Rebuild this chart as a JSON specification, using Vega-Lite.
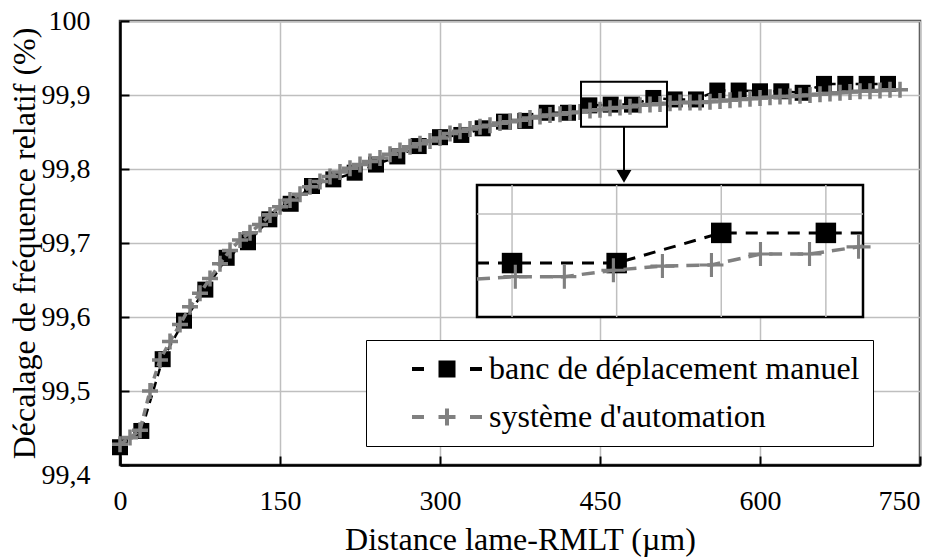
{
  "$schema": "https://vega.github.io/schema/vega-lite/v6.json",
  "width": 800,
  "height": 444,
  "autosize": "none",
  "padding": {"left": 120, "top": 21, "right": 29, "bottom": 93},
  "background": "white",
  "config": {
    "font": "Liberation Serif",
    "view": {"stroke": "#404040", "strokeWidth": 2.5},
    "axis": {
      "domainColor": "black", "domainWidth": 2.5,
      "gridColor": "#bfbfbf", "gridWidth": 1.5,
      "tickColor": "black", "tickWidth": 2, "tickSize": -9,
      "labelFont": "Liberation Serif", "labelFontSize": 28, "labelColor": "black",
      "titleFont": "Liberation Serif", "titleFontSize": 32, "titleFontWeight": "normal", "titleColor": "black"
    },
    "legend": {
      "labelFont": "Liberation Serif", "labelFontSize": 32, "labelColor": "black", "labelLimit": 700
    }
  },
  "datasets": {
    "manuel": [
      {"s": "banc de déplacement manuel", "x": 0, "y": 99.424},
      {"s": "banc de déplacement manuel", "x": 20, "y": 99.446},
      {"s": "banc de déplacement manuel", "x": 40, "y": 99.543},
      {"s": "banc de déplacement manuel", "x": 60, "y": 99.595},
      {"s": "banc de déplacement manuel", "x": 80, "y": 99.637},
      {"s": "banc de déplacement manuel", "x": 100, "y": 99.680},
      {"s": "banc de déplacement manuel", "x": 120, "y": 99.701},
      {"s": "banc de déplacement manuel", "x": 140, "y": 99.732},
      {"s": "banc de déplacement manuel", "x": 160, "y": 99.753},
      {"s": "banc de déplacement manuel", "x": 180, "y": 99.777},
      {"s": "banc de déplacement manuel", "x": 200, "y": 99.786},
      {"s": "banc de déplacement manuel", "x": 220, "y": 99.795},
      {"s": "banc de déplacement manuel", "x": 240, "y": 99.806},
      {"s": "banc de déplacement manuel", "x": 260, "y": 99.817},
      {"s": "banc de déplacement manuel", "x": 280, "y": 99.831},
      {"s": "banc de déplacement manuel", "x": 300, "y": 99.843},
      {"s": "banc de déplacement manuel", "x": 320, "y": 99.846},
      {"s": "banc de déplacement manuel", "x": 340, "y": 99.855},
      {"s": "banc de déplacement manuel", "x": 360, "y": 99.864},
      {"s": "banc de déplacement manuel", "x": 380, "y": 99.865},
      {"s": "banc de déplacement manuel", "x": 400, "y": 99.876},
      {"s": "banc de déplacement manuel", "x": 420, "y": 99.876},
      {"s": "banc de déplacement manuel", "x": 440, "y": 99.886},
      {"s": "banc de déplacement manuel", "x": 460, "y": 99.887},
      {"s": "banc de déplacement manuel", "x": 480, "y": 99.887},
      {"s": "banc de déplacement manuel", "x": 500, "y": 99.896},
      {"s": "banc de déplacement manuel", "x": 520, "y": 99.894},
      {"s": "banc de déplacement manuel", "x": 540, "y": 99.894},
      {"s": "banc de déplacement manuel", "x": 560, "y": 99.906},
      {"s": "banc de déplacement manuel", "x": 580, "y": 99.906},
      {"s": "banc de déplacement manuel", "x": 600, "y": 99.905},
      {"s": "banc de déplacement manuel", "x": 620, "y": 99.905},
      {"s": "banc de déplacement manuel", "x": 640, "y": 99.903},
      {"s": "banc de déplacement manuel", "x": 660, "y": 99.915},
      {"s": "banc de déplacement manuel", "x": 680, "y": 99.915},
      {"s": "banc de déplacement manuel", "x": 700, "y": 99.915},
      {"s": "banc de déplacement manuel", "x": 720, "y": 99.915}
    ],
    "auto": [
      {"s": "système d'automation", "x": 0, "y": 99.428},
      {"s": "système d'automation", "x": 9.375, "y": 99.437},
      {"s": "système d'automation", "x": 18.75, "y": 99.447},
      {"s": "système d'automation", "x": 28.125, "y": 99.500},
      {"s": "système d'automation", "x": 37.5, "y": 99.542},
      {"s": "système d'automation", "x": 46.875, "y": 99.567},
      {"s": "système d'automation", "x": 56.25, "y": 99.590},
      {"s": "système d'automation", "x": 65.625, "y": 99.614},
      {"s": "système d'automation", "x": 75, "y": 99.632},
      {"s": "système d'automation", "x": 84.375, "y": 99.652},
      {"s": "système d'automation", "x": 93.75, "y": 99.672},
      {"s": "système d'automation", "x": 103.125, "y": 99.690},
      {"s": "système d'automation", "x": 112.5, "y": 99.704},
      {"s": "système d'automation", "x": 121.875, "y": 99.714},
      {"s": "système d'automation", "x": 131.25, "y": 99.725},
      {"s": "système d'automation", "x": 140.625, "y": 99.738},
      {"s": "système d'automation", "x": 150, "y": 99.749},
      {"s": "système d'automation", "x": 159.375, "y": 99.758},
      {"s": "système d'automation", "x": 168.75, "y": 99.766},
      {"s": "système d'automation", "x": 178.125, "y": 99.776},
      {"s": "système d'automation", "x": 187.5, "y": 99.783},
      {"s": "système d'automation", "x": 196.875, "y": 99.790},
      {"s": "système d'automation", "x": 206.25, "y": 99.796},
      {"s": "système d'automation", "x": 215.625, "y": 99.801},
      {"s": "système d'automation", "x": 225, "y": 99.806},
      {"s": "système d'automation", "x": 234.375, "y": 99.810},
      {"s": "système d'automation", "x": 243.75, "y": 99.815},
      {"s": "système d'automation", "x": 253.125, "y": 99.820},
      {"s": "système d'automation", "x": 262.5, "y": 99.825},
      {"s": "système d'automation", "x": 271.875, "y": 99.830},
      {"s": "système d'automation", "x": 281.25, "y": 99.834},
      {"s": "système d'automation", "x": 290.625, "y": 99.838},
      {"s": "système d'automation", "x": 300, "y": 99.842},
      {"s": "système d'automation", "x": 309.375, "y": 99.848},
      {"s": "système d'automation", "x": 318.75, "y": 99.851},
      {"s": "système d'automation", "x": 328.125, "y": 99.854},
      {"s": "système d'automation", "x": 337.5, "y": 99.857},
      {"s": "système d'automation", "x": 346.875, "y": 99.859},
      {"s": "système d'automation", "x": 356.25, "y": 99.862},
      {"s": "système d'automation", "x": 365.625, "y": 99.864},
      {"s": "système d'automation", "x": 375, "y": 99.866},
      {"s": "système d'automation", "x": 384.375, "y": 99.869},
      {"s": "système d'automation", "x": 393.75, "y": 99.871},
      {"s": "système d'automation", "x": 403.125, "y": 99.873},
      {"s": "système d'automation", "x": 412.5, "y": 99.874},
      {"s": "système d'automation", "x": 421.875, "y": 99.876},
      {"s": "système d'automation", "x": 431.25, "y": 99.877},
      {"s": "système d'automation", "x": 440.625, "y": 99.879},
      {"s": "système d'automation", "x": 450, "y": 99.880},
      {"s": "système d'automation", "x": 459.375, "y": 99.882},
      {"s": "système d'automation", "x": 468.75, "y": 99.883},
      {"s": "système d'automation", "x": 478.125, "y": 99.884},
      {"s": "système d'automation", "x": 487.5, "y": 99.886},
      {"s": "système d'automation", "x": 496.875, "y": 99.887},
      {"s": "système d'automation", "x": 506.25, "y": 99.888},
      {"s": "système d'automation", "x": 515.625, "y": 99.889},
      {"s": "système d'automation", "x": 525, "y": 99.890},
      {"s": "système d'automation", "x": 534.375, "y": 99.890},
      {"s": "système d'automation", "x": 543.75, "y": 99.890},
      {"s": "système d'automation", "x": 553.125, "y": 99.891},
      {"s": "système d'automation", "x": 562.5, "y": 99.892},
      {"s": "système d'automation", "x": 571.875, "y": 99.893},
      {"s": "système d'automation", "x": 581.25, "y": 99.894},
      {"s": "système d'automation", "x": 590.625, "y": 99.895},
      {"s": "système d'automation", "x": 600, "y": 99.896},
      {"s": "système d'automation", "x": 609.375, "y": 99.897},
      {"s": "système d'automation", "x": 618.75, "y": 99.898},
      {"s": "système d'automation", "x": 628.125, "y": 99.898},
      {"s": "système d'automation", "x": 637.5, "y": 99.899},
      {"s": "système d'automation", "x": 646.875, "y": 99.900},
      {"s": "système d'automation", "x": 656.25, "y": 99.901},
      {"s": "système d'automation", "x": 665.625, "y": 99.902},
      {"s": "système d'automation", "x": 675, "y": 99.903},
      {"s": "système d'automation", "x": 684.375, "y": 99.904},
      {"s": "système d'automation", "x": 693.75, "y": 99.905},
      {"s": "système d'automation", "x": 703.125, "y": 99.905},
      {"s": "système d'automation", "x": 712.5, "y": 99.906},
      {"s": "système d'automation", "x": 721.875, "y": 99.907},
      {"s": "système d'automation", "x": 731.25, "y": 99.907}
    ],
    "zoombox": [{"x1": 432.2, "x2": 512.8, "y1": 99.857, "y2": 99.918}],
    "arrow": [{"x": 472.5, "y1": 99.857, "y2": 99.795, "tip": 99.79}],
    "insetframe": [{"x1": 433.3, "x2": 507.1, "y1": 99.8727, "y2": 99.9077}],
    "insetgridx": [
      {"x": 440, "y1": 99.8727, "y2": 99.9077},
      {"x": 460, "y1": 99.8727, "y2": 99.9077},
      {"x": 480, "y1": 99.8727, "y2": 99.9077},
      {"x": 500, "y1": 99.8727, "y2": 99.9077}
    ],
    "insetgridy": [{"y": 99.9, "x1": 433.3, "x2": 507.1}],
    "insetmanuel": [
      {"x": 433.3, "y": 99.887, "pt": false},
      {"x": 440, "y": 99.887, "pt": true},
      {"x": 460, "y": 99.887, "pt": true},
      {"x": 480, "y": 99.895, "pt": true},
      {"x": 500, "y": 99.895, "pt": true},
      {"x": 507.1, "y": 99.895, "pt": false}
    ],
    "insetauto": [
      {"x": 433.3, "y": 99.8828, "pt": false},
      {"x": 440.625, "y": 99.8834, "pt": true},
      {"x": 450, "y": 99.8834, "pt": true},
      {"x": 459.375, "y": 99.8851, "pt": true},
      {"x": 468.75, "y": 99.8862, "pt": true},
      {"x": 478.125, "y": 99.8865, "pt": true},
      {"x": 487.5, "y": 99.8894, "pt": true},
      {"x": 496.875, "y": 99.8894, "pt": true},
      {"x": 506.25, "y": 99.8913, "pt": true},
      {"x": 507.1, "y": 99.8915, "pt": false}
    ]
  },
  "layer": [
    {
      "layer": [
        {
          "data": {"name": "manuel"},
          "mark": {"type": "line", "color": "black", "strokeWidth": 2.5, "strokeDash": [8, 6]},
          "encoding": {
            "x": {"field": "x", "type": "quantitative",
              "scale": {"domain": [0, 750], "nice": false, "zero": false},
              "axis": {"values": [0, 150, 300, 450, 600, 750], "title": "Distance lame-RMLT (µm)",
                "labelFlush": false,
                "labelOffset": {"condition": {"test": "datum.value >= 749", "value": -21}, "value": 0},
                "labelPadding": 31, "titleY": 84, "titleBaseline": "alphabetic"}},
            "y": {"field": "y", "type": "quantitative",
              "scale": {"domain": [99.4, 100], "nice": false, "zero": false},
              "axis": {"values": [99.4, 99.5, 99.6, 99.7, 99.8, 99.9, 100],
                "title": "Décalage de fréquence relatif (%)",
                "labelExpr": "datum.value >= 99.99 ? '100' : replace(format(datum.value, '.1f'), '.', ',')",
                "labelPadding": 39,
                "labelOffset": {"condition": {"test": "datum.value <= 99.41", "value": 10}, "value": 0},
                "titleX": -86, "titleY": 222, "titleAngle": -90, "titleAlign": "center", "titleBaseline": "alphabetic"}}
          }
        },
        {
          "data": {"name": "manuel"},
          "mark": {"type": "point", "shape": "square", "filled": true, "color": "black", "size": 256, "opacity": 1, "strokeWidth": 0},
          "encoding": {
            "x": {"field": "x", "type": "quantitative"},
            "y": {"field": "y", "type": "quantitative"}
          }
        },
        {
          "data": {"name": "auto"},
          "mark": {"type": "line", "color": "#808080", "strokeWidth": 3.5, "strokeDash": [8, 5]},
          "encoding": {
            "x": {"field": "x", "type": "quantitative"},
            "y": {"field": "y", "type": "quantitative"}
          }
        },
        {
          "data": {"name": "auto"},
          "mark": {"type": "point", "shape": "M-1,-0.22H1V0.22H-1Z M-0.22,-1H0.22V1H-0.22Z", "filled": true, "color": "#808080", "size": 256, "opacity": 1, "strokeWidth": 0},
          "encoding": {
            "x": {"field": "x", "type": "quantitative"},
            "y": {"field": "y", "type": "quantitative"}
          }
        },
        {
          "data": {"name": "manuel"},
          "transform": [{"filter": "false"}],
          "mark": {"type": "point", "filled": true, "opacity": 1, "strokeWidth": 0},
          "encoding": {
            "x": {"field": "x", "type": "quantitative"},
            "y": {"field": "y", "type": "quantitative"},
            "color": {"field": "s", "type": "nominal",
              "scale": {"domain": ["banc de déplacement manuel", "système d'automation"], "range": ["black", "#808080"]},
              "legend": {
                "title": null, "orient": "none", "legendX": 246, "legendY": 319,
                "padding": 13, "rowPadding": 16, "symbolOffset": 52, "labelOffset": 26,
                "symbolSize": 400, "strokeColor": "black", "fillColor": "white",
                "encode": {
                  "symbols": {"update": {"strokeWidth": {"value": 0}}},
                  "legend": {"update": {"strokeWidth": {"value": 2}}}
                }
              }},
            "shape": {"field": "s", "type": "nominal",
              "scale": {"domain": ["banc de déplacement manuel", "système d'automation"],
                "range": [
                  "M-3.5,-0.2H-2.3V0.2H-3.5Z M-0.85,-0.85H0.85V0.85H-0.85Z M2.3,-0.2H3.5V0.2H2.3Z",
                  "M-3.5,-0.2H-2.3V0.2H-3.5Z M-0.85,-0.2H0.85V0.2H-0.85Z M-0.2,-0.85H0.2V0.85H-0.2Z M2.3,-0.2H3.5V0.2H2.3Z"
                ]}}
          }
        },
        {
          "data": {"name": "zoombox"},
          "mark": {"type": "rect", "fill": null, "fillOpacity": 0, "stroke": "black", "strokeWidth": 2},
          "encoding": {
            "x": {"field": "x1", "type": "quantitative"},
            "x2": {"field": "x2"},
            "y": {"field": "y1", "type": "quantitative"},
            "y2": {"field": "y2"}
          }
        },
        {
          "data": {"name": "arrow"},
          "mark": {"type": "rule", "color": "black", "strokeWidth": 2},
          "encoding": {
            "x": {"field": "x", "type": "quantitative"},
            "y": {"field": "y1", "type": "quantitative"},
            "y2": {"field": "y2"}
          }
        },
        {
          "data": {"name": "arrow"},
          "mark": {"type": "point", "shape": "triangle-down", "filled": true, "color": "black", "size": 220, "opacity": 1},
          "encoding": {
            "x": {"field": "x", "type": "quantitative"},
            "y": {"field": "tip", "type": "quantitative"}
          }
        }
      ]
    },
    {
      "layer": [
        {
          "data": {"name": "insetframe"},
          "mark": {"type": "rect", "fill": "white", "stroke": "black", "strokeWidth": 2.5},
          "encoding": {
            "x": {"field": "x1", "type": "quantitative", "axis": null,
              "scale": {"domain": [433.3, 507.1], "range": [357, 743], "nice": false, "zero": false}},
            "x2": {"field": "x2"},
            "y": {"field": "y1", "type": "quantitative", "axis": null,
              "scale": {"domain": [99.8727, 99.9077], "range": [296, 164], "nice": false, "zero": false}},
            "y2": {"field": "y2"}
          }
        },
        {
          "data": {"name": "insetgridx"},
          "mark": {"type": "rule", "color": "#bfbfbf", "strokeWidth": 1.5},
          "encoding": {
            "x": {"field": "x", "type": "quantitative", "axis": null},
            "y": {"field": "y1", "type": "quantitative", "axis": null},
            "y2": {"field": "y2"}
          }
        },
        {
          "data": {"name": "insetgridy"},
          "mark": {"type": "rule", "color": "#bfbfbf", "strokeWidth": 1.5},
          "encoding": {
            "y": {"field": "y", "type": "quantitative", "axis": null},
            "x": {"field": "x1", "type": "quantitative", "axis": null},
            "x2": {"field": "x2"}
          }
        },
        {
          "data": {"name": "insetmanuel"},
          "mark": {"type": "line", "color": "black", "strokeWidth": 3, "strokeDash": [12, 9]},
          "encoding": {
            "x": {"field": "x", "type": "quantitative", "axis": null},
            "y": {"field": "y", "type": "quantitative", "axis": null}
          }
        },
        {
          "data": {"name": "insetmanuel"},
          "transform": [{"filter": "datum.pt"}],
          "mark": {"type": "point", "shape": "square", "filled": true, "color": "black", "size": 420, "opacity": 1},
          "encoding": {
            "x": {"field": "x", "type": "quantitative", "axis": null},
            "y": {"field": "y", "type": "quantitative", "axis": null}
          }
        },
        {
          "data": {"name": "insetauto"},
          "mark": {"type": "line", "color": "#808080", "strokeWidth": 3.5, "strokeDash": [13, 8]},
          "encoding": {
            "x": {"field": "x", "type": "quantitative", "axis": null},
            "y": {"field": "y", "type": "quantitative", "axis": null}
          }
        },
        {
          "data": {"name": "insetauto"},
          "transform": [{"filter": "datum.pt"}],
          "mark": {"type": "point", "shape": "M-1,-0.13H1V0.13H-1Z M-0.13,-1H0.13V1H-0.13Z", "filled": true, "color": "#808080", "size": 576, "opacity": 1, "strokeWidth": 0},
          "encoding": {
            "x": {"field": "x", "type": "quantitative", "axis": null},
            "y": {"field": "y", "type": "quantitative", "axis": null}
          }
        }
      ]
    }
  ],
  "resolve": {"scale": {"x": "independent", "y": "independent"}}
}
